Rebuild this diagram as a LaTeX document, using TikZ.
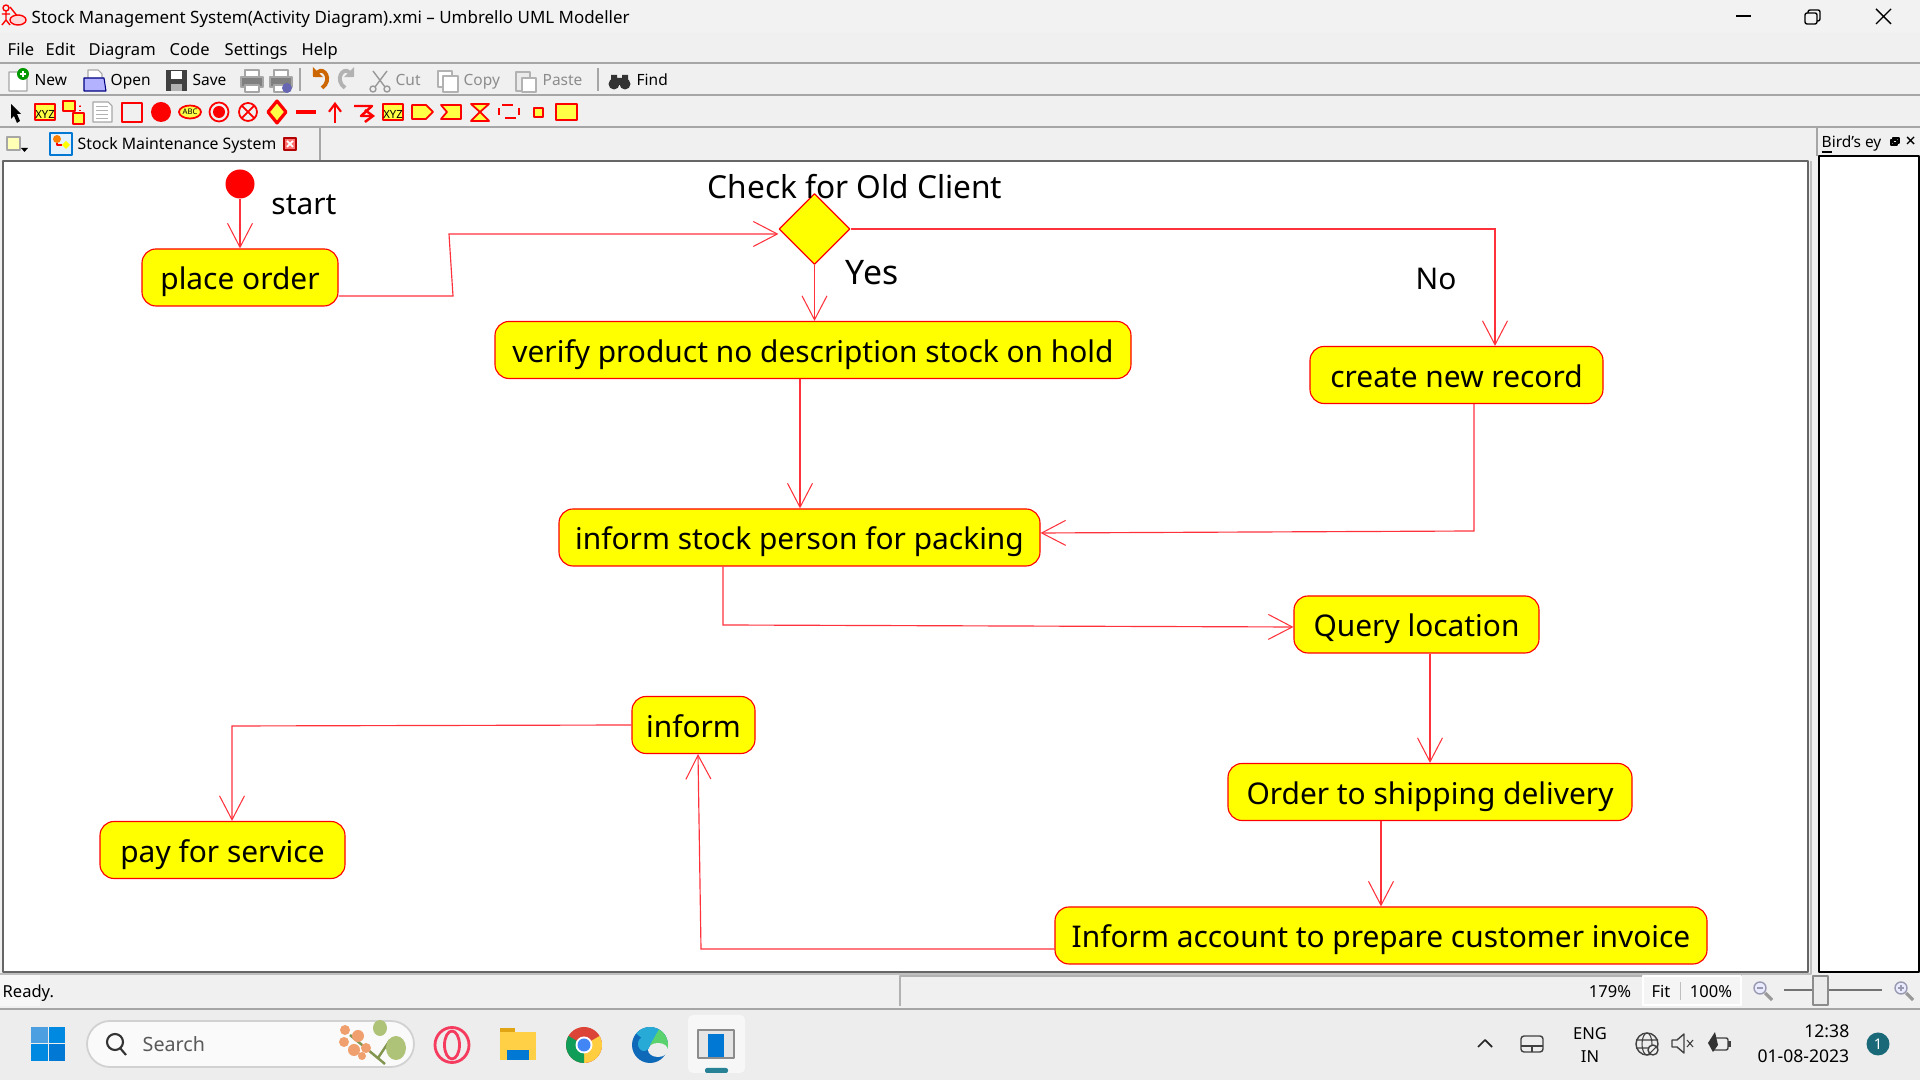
\documentclass[tikz,border=0pt]{standalone}
\usepackage{fontspec}
\setmainfont{Noto Sans}
\usetikzlibrary{arrows.meta,shapes.geometric}
\definecolor{umlYellow}{RGB}{255,255,0}
\definecolor{umlLine}{RGB}{255,50,60}
\definecolor{toolYellow}{RGB}{255,255,70}
\definecolor{msBlue}{RGB}{0,120,212}
\begin{document}
\begin{tikzpicture}
% screen measured in pixels
\def\pxsz{0.01cm}
\providecommand{\uiRuleColor}{black!35}
\tikzset{
  actbox/.style={draw=red, fill=umlYellow, line width=0.32pt, rounded corners=0.14cm, inner sep=0pt, text height=8.3pt, text depth=1.4pt, font=\fontsize{8.5}{10}\selectfont},
  flow/.style={draw=umlLine, line width=0.33pt, line join=miter, -{Straight Barb[length=0.24cm,width=0.25cm,line width=0.3pt]}},
  umltext/.style={inner sep=0pt, text height=8.3pt, text depth=1.4pt, font=\fontsize{8.5}{10}\selectfont},
  uitext/.style={anchor=west, inner sep=0pt, text height=4.5pt, text depth=1.5pt, font=\fontsize{4.7}{6}\selectfont},
  uitool/.style={uitext, font=\fontsize{4.4}{6}\selectfont},
  uigrey/.style={uitool, text=black!45},
  tooline/.style={draw=red, line width=0.5pt},
  toofill/.style={draw=red, fill=toolYellow, line width=0.5pt},
  graybtn/.style={draw=black!35, fill=black!8, line width=0.3pt},
}
\begin{scope}[x=\pxsz, y=-\pxsz, line join=round]
  \useasboundingbox (0,0) rectangle (1920,1080);
  % Window face
  \fill[black!6] (0,0) rectangle (1920,1080);
  \fill[black!5] (0,0) rectangle (1920,33);
  \fill[black!7] (0,1010) rectangle (1920,1080);
  % Title bar
  \node[uitext, font=\fontsize{4.82}{6}\selectfont] (titletext) at (31,18) {Stock Management System(Activity Diagram).xmi – Umbrello UML Modeller};
  \begin{scope}[draw=red, line width=0.4pt]
    \draw (6,8) circle (3);
    \draw (6,11) -- (6,20) (2,14) -- (10,14) (6,20) -- (2,25) (6,20) -- (10,25);
    \draw (10,7) -- (18,17);
    \draw[fill=red!15] (18,20) ellipse (8 and 5);
  \end{scope}
  \draw[black, line width=0.3pt] (1736,16) -- (1751,16);
  \draw[black, line width=0.4pt, rounded corners=0.02cm] (1805,13) rectangle (1817,24);
  \draw[black, line width=0.4pt, rounded corners=0.02cm] (1808,13) -- (1808,10) -- (1820,10) -- (1820,21) -- (1817,21);
  \draw[black, line width=0.4pt] (1876,9) -- (1891,24) (1891,9) -- (1876,24);
  % Menu bar
  \node[uitext] (menufile) at (7,50) {File};
  \node[uitext] (menuedit) at (45,50) {Edit};
  \node[uitext] (menudiagram) at (88,50) {Diagram};
  \node[uitext] (menucode) at (169,50) {Code};
  \node[uitext] (menusettings) at (224,50) {Settings};
  \node[uitext] (menuhelp) at (301,50) {Help};
  \begin{scope}[draw=\uiRuleColor, line width=0.4pt]
    \draw (0,63) -- (1920,63);
    \draw (0,95) -- (1920,95);
    \draw (0,127) -- (1920,127);
    \draw (300,68) -- (300,91);
    \draw (598,68) -- (598,91);
  \end{scope}
  % Main toolbar
  \draw[graybtn, fill=white] (9,72) -- (22,72) -- (27,77) -- (27,91) -- (9,91) -- cycle;
  \fill[green!60!black] (23,74) circle (6);
  \draw[white, line width=0.5pt] (20,74) -- (26,74) (23,71) -- (23,77);
  \node[uitool] (btnnew) at (34,80) {New};
  \draw[graybtn, fill=white] (88,78) -- (88,70) -- (98,70) -- (102,74) -- (102,78);
  \draw[draw=blue!50!black, fill=blue!30!white, line width=0.3pt] (84,78) -- (104,78) -- (106,91) -- (84,91) -- cycle;
  \node[uitool] (btnopen) at (110,80) {Open};
  \fill[black!75] (166,70) rectangle (187,91);
  \fill[white] (171,71) rectangle (182,79);
  \fill[black!30] (171,84) rectangle (182,91);
  \node[uitool] (btnsave) at (192,80) {Save};
  \draw[graybtn, fill=white] (245,70) rectangle (259,77);
  \draw[graybtn, fill=black!50] (241,77) rectangle (263,87);
  \draw[graybtn, fill=white] (245,85) rectangle (259,92);
  \draw[graybtn, fill=white] (274,70) rectangle (288,77);
  \draw[graybtn, fill=black!50] (270,77) rectangle (292,87);
  \draw[graybtn, fill=white] (274,85) rectangle (288,92);
  \fill[blue!50!black!60] (287,88) circle (5);
  \draw[orange!80!black, line width=1.1pt, -{Triangle[length=0.07cm,width=0.14cm]}] (322,88) .. controls (333,80) and (324,66) .. (313,77);
  \draw[black!30, line width=1.1pt, -{Triangle[length=0.07cm,width=0.14cm]}] (345,88) .. controls (334,80) and (343,66) .. (354,77);
  \draw[black!40, line width=0.4pt] (373,71) -- (385,87) (387,71) -- (375,87);
  \draw[black!40, line width=0.4pt] (373,89) circle (3) (387,89) circle (3);
  \node[uigrey] (btncut) at (395,80) {Cut};
  \draw[black!30, line width=0.4pt, fill=white] (438,71) rectangle (452,87);
  \draw[black!30, line width=0.4pt, fill=white] (443,76) rectangle (458,92);
  \node[uigrey] (btncopy) at (463,80) {Copy};
  \draw[black!30, line width=0.4pt, fill=black!8] (516,72) rectangle (530,91);
  \draw[black!30, line width=0.4pt, fill=white] (522,78) rectangle (536,92);
  \node[uigrey] (btnpaste) at (542,80) {Paste};
  \fill[black!80] (614,84) circle (5.5) (625,84) circle (5.5);
  \fill[black!80] (611,75) rectangle (617,82) (622,75) rectangle (628,82) (617,78) rectangle (622,85);
  \node[uitool] (btnfind) at (636,80) {Find};
  % Drawing toolbar
  \fill[black] (11,104) -- (11,119) -- (14,116) -- (17,123) -- (20,121) -- (17,114) -- (21,114) -- cycle;
  \draw[toofill] (35,104) rectangle (55,120);
  \node[inner sep=0pt, font=\bfseries\fontsize{3.2}{4}\selectfont] (xyzone) at (45,114) {XYZ};
  \draw[toofill] (63,101) rectangle (75,111);
  \draw[toofill] (73,113) rectangle (84,124);
  \draw[red, densely dotted, line width=0.3pt] (75,106) -- (80,106) -- (80,113);
  \draw[graybtn, fill=white] (93,102) -- (108,102) -- (112,106) -- (112,122) -- (93,122) -- cycle;
  \draw[black!30, line width=0.2pt] (96,106) -- (108,106) (96,110) -- (108,110) (96,114) -- (108,114) (96,118) -- (108,118);
  \draw[tooline] (122,103) rectangle (142,122);
  \fill[red] (161,112) circle (10);
  \draw[toofill] (190,112) ellipse (11 and 6.5);
  \node[inner sep=0pt, font=\bfseries\fontsize{2.2}{3}\selectfont] (abclabel) at (190,112) {ABC};
  \draw[tooline] (219,112) circle (9.5);
  \fill[red] (219,112) circle (6);
  \draw[tooline] (248,112) circle (9);
  \draw[tooline] (242,106) -- (254,118) (254,106) -- (242,118);
  \draw[toofill, line width=0.9pt] (277,101) -- (286,112) -- (277,123) -- (268,112) -- cycle;
  \fill[red] (296,110) rectangle (316,114);
  \draw[red, line width=0.6pt, -{Straight Barb[length=0.08cm,width=0.12cm]}] (335,123) -- (335,102);
  \draw[red, line width=0.7pt, -{Straight Barb[length=0.08cm,width=0.12cm]}] (354,106) -- (372,106) -- (361,116) -- (375,116);
  \draw[toofill] (383,104) rectangle (403,120);
  \node[inner sep=0pt, font=\bfseries\fontsize{3.2}{4}\selectfont] (xyztwo) at (393,114) {XYZ};
  \draw[toofill] (412,105) -- (426,105) -- (433,112) -- (426,119) -- (412,119) -- cycle;
  \draw[toofill] (441,105) -- (461,105) -- (461,119) -- (441,119) -- (447,112) -- cycle;
  \draw[toofill] (471,104) -- (489,104) -- (480,112) -- (489,121) -- (471,121) -- (480,112) -- cycle;
  \draw[red, densely dashed, line width=0.3pt] (502,105) -- (516,105) (519,108) -- (519,115) (516,118) -- (502,118) (499,115) -- (499,108);
  \draw[toofill] (534,108) rectangle (543,117);
  \draw[toofill, line width=0.7pt] (556,104) rectangle (577,120);
  % Tab bar
  \draw[draw=\uiRuleColor, line width=0.4pt] (320,127) -- (320,160);
  \draw[draw=\uiRuleColor, line width=0.4pt] (1817,127) -- (1817,156);
  \draw[graybtn, fill=toolYellow!40!white] (7,137) rectangle (20,150);
  \fill[black] (21,148) -- (28,148) -- (24.5,152) -- cycle;
  \draw[draw=msBlue, fill=msBlue!10!white, line width=0.4pt] (50,133) rectangle (72,155);
  \fill[orange] (57,139) circle (4);
  \fill[umlYellow] (66,149) -- (70,145) -- (66,141) -- (62,145) -- cycle;
  \draw[red, line width=0.3pt] (57,143) -- (57,145) -- (62,145);
  \node[uitext, font=\fontsize{4.5}{6}\selectfont] (tabname) at (77,144) {Stock Maintenance System};
  \draw[draw=red!70!black, fill=red!55!white, line width=0.3pt] (284,138) rectangle (296,150);
  \draw[white, line width=0.5pt] (287,141) -- (293,147) (293,141) -- (287,147);
  \node[uitext, font=\fontsize{4.4}{6}\selectfont] (birdtitle) at (1821,142) {\underline{B}ird's ey};
  \draw[black, line width=0.3pt] (1891,140) rectangle (1897,145) (1893,138) rectangle (1899,143);
  \draw[black, line width=0.4pt] (1907,137) -- (1914,144) (1914,137) -- (1907,144);
  % Canvas and side panel
  \draw[draw=black!60, fill=white, line width=0.4pt] (3,161) rectangle (1808,972);
  \draw[draw=black!25, line width=0.8pt] (1811,161) -- (1811,974) -- (0,974);
  \draw[draw=black, fill=white, line width=0.5pt] (1819,156) rectangle (1919,972);
  % Activities
  \node[actbox, minimum width=196*\pxsz, minimum height=57*\pxsz] (placeorder) at (240,277.5) {place order};
  \node[actbox, minimum width=636*\pxsz, minimum height=57*\pxsz] (verify) at (813,350) {verify product no description stock on hold};
  \node[actbox, minimum width=293*\pxsz, minimum height=57*\pxsz] (newrecord) at (1456.5,375) {create new record};
  \node[actbox, minimum width=481*\pxsz, minimum height=57*\pxsz] (stockperson) at (799.5,537.5) {inform stock person for packing};
  \node[actbox, minimum width=245*\pxsz, minimum height=57*\pxsz] (querylocation) at (1416.5,624.5) {Query location};
  \node[actbox, minimum width=404*\pxsz, minimum height=57*\pxsz] (shipping) at (1430,792) {Order to shipping delivery};
  \node[actbox, minimum width=652*\pxsz, minimum height=57*\pxsz] (invoice) at (1381,935.5) {Inform account to prepare customer invoice};
  \node[actbox, minimum width=123*\pxsz, minimum height=57*\pxsz] (informclient) at (693.5,725) {inform};
  \node[actbox, minimum width=245*\pxsz, minimum height=57*\pxsz] (payservice) at (222.5,850) {pay for service};
  % Start and decision
  \node[circle, fill=red, minimum size=29*\pxsz, inner sep=0pt] (startdot) at (240,184) {};
  \node[diamond, draw=red, fill=umlYellow, line width=0.32pt, minimum width=71*\pxsz, minimum height=71*\pxsz, inner sep=0pt] (oldclient) at (814.5,229) {};
  % Labels
  \node[umltext] (startlabel) at (304,202) {start};
  \node[umltext, font=\fontsize{9}{10}\selectfont] (checklabel) at (855,186) {Check for Old Client};
  \node[umltext, font=\fontsize{9.6}{10}\selectfont] (yeslabel) at (872,272) {Yes};
  \node[umltext] (nolabel) at (1436,277) {No};
  % Transitions
  \draw[flow] (startdot.south) -- (placeorder.north);
  \draw[flow] (placeorder.east |- 0,296) -- (453,296) -- (449,234) -- (oldclient.west |- 0,234);
  \draw[flow] (oldclient.south) -- (verify.north -| oldclient.south);
  \draw[flow] (oldclient.east) -- (1495,229) -- (newrecord.north -| 1495,0);
  \draw[flow] (verify.south -| 800,0) -- (stockperson.north -| 800,0);
  \draw[flow] (newrecord.south -| 1474,0) -- (1474,531) -- (stockperson.east |- 0,533);
  \draw[flow] (stockperson.south -| 723,0) -- (723,625) -- (querylocation.west |- 0,627);
  \draw[flow] (querylocation.south -| 1430,0) -- (shipping.north -| 1430,0);
  \draw[flow] (shipping.south -| 1381,0) -- (invoice.north -| 1381,0);
  \draw[flow] (invoice.west |- 0,949) -- (701,949) -- (informclient.south -| 698,0);
  \draw[flow] (informclient.west) -- (232,726) -- (payservice.north -| 232,0);
  % Status bar
  \fill[black!3] (0,975) rectangle (40,1006);
  \node[uitext] (statusready) at (2,992) {Ready.};
  \draw[draw=black!30, line width=0.3pt] (900,1006) -- (900,976) -- (1742,976);
  \node[uitext, anchor=center] (zoompercent) at (1610,992) {179\%};
  \draw[draw=white, fill=black!4, line width=0.4pt] (1643,976) rectangle (1741,1005);
  \node[uitext, anchor=center] (zoomfit) at (1661,992) {Fit};
  \draw[draw=black!25, line width=0.2pt] (1680,982) -- (1680,1000);
  \node[uitext, anchor=center] (zoomfull) at (1711,992) {100\%};
  \draw[draw=blue!25!black!40, fill=blue!8, line width=0.4pt] (1760,988) circle (6);
  \draw[black!40, line width=0.9pt] (1765,993) -- (1772,1000);
  \draw[blue!25!black!40, line width=0.4pt] (1757,988) -- (1763,988);
  \draw[black!55, line width=0.4pt] (1784,990) -- (1882,990);
  \draw[draw=black!45, fill=black!8, line width=0.3pt] (1813,976) rectangle (1828,1005);
  \draw[draw=blue!25!black!40, fill=blue!8, line width=0.4pt] (1901,988) circle (6);
  \draw[black!40, line width=0.9pt] (1906,993) -- (1913,1000);
  \draw[blue!25!black!40, line width=0.4pt] (1898,988) -- (1904,988) (1901,985) -- (1901,991);
  \draw[draw=\uiRuleColor, line width=0.7pt] (0,1009) -- (1920,1009);
  % Taskbar
  \begin{scope}[fill={rgb,1:red,0.000;green,0.537;blue,0.878}]
    \fill[fill=msBlue!70!white] (31,1027) rectangle ++(16.5,16.5);
    \fill (48.5,1027) rectangle ++(16.5,16.5);
    \fill (31,1044.5) rectangle ++(16.5,16.5);
    \fill[fill=msBlue] (48.5,1044.5) rectangle ++(16.5,16.5);
  \end{scope}
  \draw[draw=black!18, fill=black!2, line width=0.5pt, rounded corners=0.23cm] (87,1021) rectangle (414,1067);
  \draw[black!80, line width=0.6pt] (115,1042) circle (8);
  \draw[black!80, line width=0.6pt] (120,1048) -- (126,1055);
  \node[uitext, text=black!65, font=\fontsize{5.6}{7}\selectfont] (searchtext) at (142,1046) {Search};
  % Flowers
  \draw[draw={rgb,255:red,130;green,150;blue,80}, line width=0.7pt] (350,1035) -- (385,1064) (390,1040) -- (378,1058);
  \fill[fill={rgb,255:red,240;green,160;blue,110}] (345,1030) circle (5) (358,1036) circle (6) (344,1042) circle (5) (354,1050) circle (6) (366,1048) circle (5) (362,1056) circle (4);
  \fill[fill={rgb,255:red,175;green,195;blue,120}] (380,1028) ellipse (7 and 8);
  \fill[fill={rgb,255:red,175;green,195;blue,120}] (396,1048) ellipse (10 and 12);
  % Opera
  \draw[draw={rgb,1:red,0.960;green,0.230;blue,0.370}, line width=0.8pt] (452,1045) ellipse (17 and 17.5);
  \draw[draw={rgb,1:red,0.960;green,0.230;blue,0.370}, line width=0.8pt] (452,1045) ellipse (7.5 and 14);
  % Folder
  \fill[fill={rgb,255:red,225;green,165;blue,20}] (500,1028) rectangle (515,1036);
  \fill[fill={rgb,255:red,255;green,208;blue,70}] (500,1032) rectangle (536,1060);
  \fill[msBlue] (507,1050) rectangle (529,1060);
  % Chrome
  \fill[fill={rgb,255:red,219;green,68;blue,55}] (584,1045) circle (18);
  \fill[fill={rgb,255:red,255;green,205;blue,64}] (584,1045) -- ++(-30:18) arc (-30:90:18) -- cycle;
  \fill[fill={rgb,255:red,15;green,157;blue,88}] (584,1045) -- ++(90:18) arc (90:210:18) -- cycle;
  \fill[white] (584,1045) circle (8.5);
  \fill[fill={rgb,255:red,66;green,133;blue,244}] (584,1045) circle (6.5);
  % Edge
  \fill[fill={rgb,255:red,15;green,105;blue,185}] (650,1045) circle (18);
  \fill[fill={rgb,255:red,40;green,170;blue,215}] (650,1045) -- ++(-140:18) arc (-140:-30:18) -- cycle;
  \fill[fill={rgb,255:red,90;green,210;blue,110}] (650,1045) -- ++(-60:18) arc (-60:25:18) -- cycle;
  \fill[black!7] (658,1050) ellipse (10 and 7);
  \fill[fill={rgb,255:red,40;green,170;blue,215}] (644,1044) ellipse (6 and 7);
  % Active application
  \fill[black!3, rounded corners=0.05cm] (688,1015) rectangle (745,1073);
  \draw[draw=black!45, fill=black!10, line width=0.4pt] (698,1030) rectangle (734,1058);
  \fill[msBlue] (708,1034) rectangle (724,1057);
  \fill[fill={rgb,255:red,40;green,130;blue,150}, rounded corners=0.02cm] (705,1068) rectangle (728,1073);
  % System tray
  \draw[black!85, line width=0.5pt] (1478,1047) -- (1485,1040) -- (1492,1047);
  \draw[black!75, line width=0.4pt, rounded corners=0.03cm] (1521,1036) rectangle (1543,1052);
  \draw[black!75, line width=0.4pt] (1521,1046) -- (1543,1046) (1532,1046) -- (1532,1052);
  \node[uitext, anchor=center] (trayeng) at (1590,1034) {ENG};
  \node[uitext, anchor=center] (trayin) at (1590,1057) {IN};
  \draw[black!75, line width=0.4pt] (1647,1044) circle (11);
  \draw[black!75, line width=0.3pt] (1647,1044) ellipse (5 and 11) (1636,1040) -- (1658,1040) (1636,1048) -- (1658,1048);
  \draw[draw=black!75, fill=black!6, line width=0.4pt] (1653,1050) circle (5);
  \draw[black!75, line width=0.3pt] (1650,1053) -- (1656,1047);
  \draw[black!75, line width=0.4pt] (1672,1040) -- (1677,1040) -- (1684,1034) -- (1684,1053) -- (1677,1047) -- (1672,1047) -- cycle;
  \draw[black!75, line width=0.3pt] (1687,1040) -- (1693,1047) (1693,1040) -- (1687,1047);
  \draw[black!75, line width=0.4pt, rounded corners=0.02cm] (1712,1038) rectangle (1728,1050);
  \fill[black!75] (1728,1041) rectangle (1731,1047);
  \fill[black!80] (1708,1043) -- (1715,1032) -- (1718,1045) -- (1713,1052) -- cycle;
  \node[uitext, anchor=east, font=\fontsize{5}{6}\selectfont] (trayclock) at (1850,1032) {12:38};
  \node[uitext, anchor=east, font=\fontsize{5}{6}\selectfont] (traydate) at (1850,1057) {01-08-2023};
  \node[circle, fill={rgb,1:red,0.100;green,0.410;blue,0.470}, text=white, minimum size=23*\pxsz, inner sep=0pt, font=\fontsize{4.2}{5}\selectfont] (traybadge) at (1878,1044) {1};
\end{scope}
\end{tikzpicture}
\end{document}
